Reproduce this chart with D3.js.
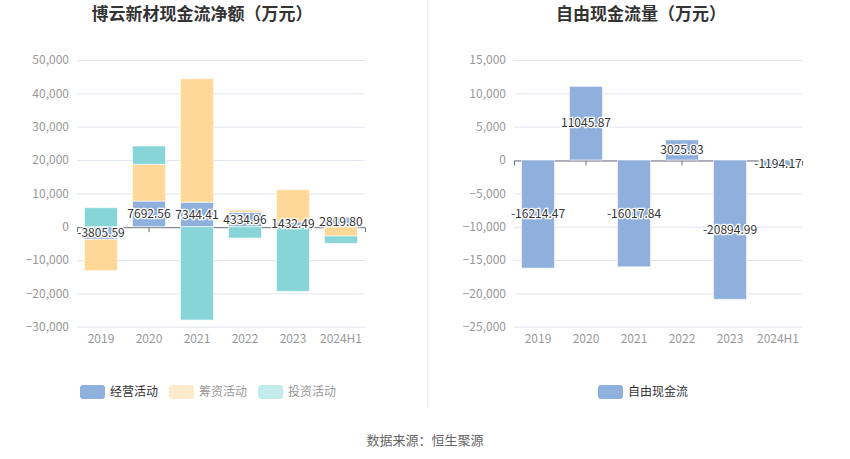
<!DOCTYPE html>
<html>
<head>
<meta charset="utf-8">
<script src="https://cdn.jsdelivr.net/npm/d3@7/dist/d3.min.js"></script>
<style>
  body { margin: 0; background: #fff; }
  text { font-family: "Microsoft YaHei", "Noto Sans CJK SC", sans-serif; }
</style>
</head>
<body>
<div id="chart"></div>
<script>
// data (万元)
var categories = ["2019", "2020", "2021", "2022", "2023", "2024H1"];
var operating = [-3805.59, 7692.56, 7344.41, 4334.96, 1432.49, 2819.80];
var financing = [-9400, 11000, 37050, 650, 9670, -2800];
var investing = [5700, 5500, -28000, -3400, -19400, -2200];
var freeCash = [-16214.47, 11045.87, -16017.84, 3025.83, -20894.99, -1194.17];

var leftTicks = [-30000, -20000, -10000, 0, 10000, 20000, 30000, 40000, 50000];
var rightTicks = [-25000, -20000, -15000, -10000, -5000, 0, 5000, 10000, 15000];

var seriesNames = ["经营活动", "筹资活动", "投资活动"];
var COLORS = { "经营活动": "#8fafdc", "筹资活动": "#ffd898", "投资活动": "#88d5d8" };
var FADED = { "经营活动": "#8fafdc", "筹资活动": "#ffebcc", "投资活动": "#c4ebec" };

var W = 850, H = 459;
var svg = d3.select("#chart").append("svg")
  .attr("width", W).attr("height", H);
svg.append("rect").attr("width", W).attr("height", H).attr("fill", "#fff");

var fmt = d3.format(",");

// {{{ shared axis helpers
function drawGrid(g, x, y, ticks) {
  var xr = x.range();
  g.append("g").selectAll("line").data(ticks).enter().append("line")
    .attr("x1", xr[0]).attr("x2", xr[1])
    .attr("y1", function(d) { return y(d) + 0.5; })
    .attr("y2", function(d) { return y(d) + 0.5; })
    .attr("stroke", "#e0e6f1");

  var yAxis = d3.axisLeft(y).tickValues(ticks).tickSize(0).tickPadding(8)
    .tickFormat(fmt);
  var ay = g.append("g").attr("transform", "translate(" + xr[0] + ",0)").call(yAxis);
  ay.select(".domain").remove();
  ay.selectAll("text").attr("fill", "#999").style("font-size", "12px");
}

function drawXAxis(g, x, y) {
  var xAxis = d3.axisBottom(x).tickSize(5).tickPadding(0);
  var ax = g.append("g").attr("transform", "translate(0," + (y(0) + 0.5) + ")").call(xAxis);
  ax.select(".domain").attr("stroke", "#6e7079");
  ax.selectAll(".tick line").attr("stroke", "#6e7079")
    .attr("transform", function() { return "translate(" + (x.bandwidth() / 2) + ",0)"; });
  ax.selectAll(".tick line").attr("transform", null);
  ax.selectAll("text").remove();
  return ax;
}

function drawXLabels(g, x, y0) {
  g.append("g").selectAll("text").data(categories).enter().append("text")
    .attr("x", function(d) { return x(d) + x.bandwidth() / 2; })
    .attr("y", y0)
    .attr("text-anchor", "middle")
    .attr("fill", "#999")
    .style("font-size", "12px")
    .text(function(d) { return d; });
}

function drawLabel(g, px, py, txt) {
  g.append("text")
    .attr("x", px).attr("y", py)
    .attr("dy", "0.35em")
    .attr("text-anchor", "middle")
    .attr("fill", "#333")
    .attr("stroke", "#fff").attr("stroke-width", 2.5)
    .attr("paint-order", "stroke")
    .style("font-size", "12px")
    .text(txt);
}

function drawLegend(g, items, x0, y0, colors, textColors) {
  var xx = x0;
  items.forEach(function(name, i) {
    g.append("rect")
      .attr("x", xx).attr("y", y0 - 7)
      .attr("width", 25).attr("height", 14).attr("rx", 3)
      .attr("fill", colors[i]);
    var t = g.append("text")
      .attr("x", xx + 30).attr("y", y0)
      .attr("dy", "0.35em")
      .attr("fill", textColors[i])
      .style("font-size", "12px")
      .text(name);
    xx += 30 + t.node().getComputedTextLength() + 11;
  });
}
// }}}

// {{{ left chart: stacked cash flows
(function() {
  var g = svg.append("g");
  var x = d3.scaleBand().domain(categories).range([77, 365]);
  var y = d3.scaleLinear().domain([-30000, 50000]).range([326.7, 60]);
  var barW = 33;

  g.append("text").attr("x", 202).attr("y", 14).attr("dy", "0.35em")
    .attr("text-anchor", "middle").attr("fill", "#333")
    .style("font-size", "17px").style("font-weight", "bold")
    .text("博云新材现金流净额（万元）");

  drawGrid(g, x, y, leftTicks);
  drawXAxis(g, x, y);

  var rows = categories.map(function(c, i) {
    return { cat: c, "经营活动": operating[i], "筹资活动": financing[i], "投资活动": investing[i] };
  });
  var stack = d3.stack().keys(seriesNames).offset(d3.stackOffsetDiverging);
  var layers = stack(rows);

  g.append("g").selectAll("g").data(layers).enter().append("g")
    .attr("fill", function(d) { return COLORS[d.key]; })
    .selectAll("rect").data(function(d) { return d; }).enter().append("rect")
      .attr("x", function(d) { return x(d.data.cat) + (x.bandwidth() - barW) / 2; })
      .attr("width", barW)
      .attr("y", function(d) { return y(Math.max(d[0], d[1])); })
      .attr("height", function(d) { return Math.abs(y(d[0]) - y(d[1])); })
      .attr("stroke", "#fff").attr("stroke-opacity", 0.6).attr("stroke-width", 1);

  // labels on the operating segment
  layers[0].forEach(function(d, i) {
    drawLabel(g, x(d.data.cat) + x.bandwidth() / 2, y((d[0] + d[1]) / 2),
      operating[i].toFixed(2));
  });

  drawXLabels(g, x, 343);

  drawLegend(g, seriesNames, 80, 392,
    [FADED["经营活动"], FADED["筹资活动"], FADED["投资活动"]],
    ["#333", "#999", "#999"]);
})();
// }}}

// {{{ right chart: free cash flow
(function() {
  var g = svg.append("g");
  var x = d3.scaleBand().domain(categories).range([514, 802]);
  var y = d3.scaleLinear().domain([-25000, 15000]).range([326.7, 60]);
  var barW = 33;

  g.append("text").attr("x", 641).attr("y", 14).attr("dy", "0.35em")
    .attr("text-anchor", "middle").attr("fill", "#333")
    .style("font-size", "17px").style("font-weight", "bold")
    .text("自由现金流量（万元）");

  drawGrid(g, x, y, rightTicks);
  drawXAxis(g, x, y);

  g.append("g").selectAll("rect").data(freeCash).enter().append("rect")
    .attr("x", function(d, i) { return x(categories[i]) + (x.bandwidth() - barW) / 2; })
    .attr("width", barW)
    .attr("y", function(d) { return y(Math.max(0, d)); })
    .attr("height", function(d) { return Math.abs(y(d) - y(0)); })
    .attr("fill", COLORS["经营活动"])
    .attr("stroke", "#fff").attr("stroke-opacity", 0.6).attr("stroke-width", 1);

  freeCash.forEach(function(v, i) {
    drawLabel(g, x(categories[i]) + x.bandwidth() / 2, y(v / 2), v.toFixed(2));
  });

  drawXLabels(g, x, 343);

  drawLegend(g, ["自由现金流"], 598, 392, [COLORS["经营活动"]], ["#333"]);
})();
// }}}

// divider + source
svg.append("line").attr("x1", 427.5).attr("x2", 427.5).attr("y1", 0).attr("y2", 406)
  .attr("stroke", "#eee");
svg.append("text").attr("x", 425).attr("y", 440).attr("dy", "0.35em")
  .attr("text-anchor", "middle").attr("fill", "#666")
  .style("font-size", "13px")
  .text("数据来源：恒生聚源");
</script>
</body>
</html>
